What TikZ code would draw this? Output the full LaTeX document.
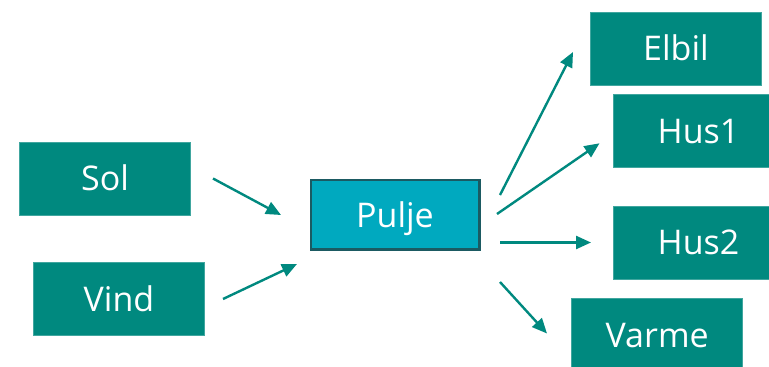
\documentclass[tikz,border=0pt]{standalone}
\usepackage{fontspec}
\setmainfont{Open Sans}
\usetikzlibrary{arrows.meta}
\definecolor{boxteal}{HTML}{00897F}
\definecolor{poolfill}{HTML}{00A9BF}
\definecolor{poolline}{HTML}{1B5A62}
\begin{document}
\begin{tikzpicture}[x=1pt,y=-1pt,
  box/.style={fill=boxteal, draw=boxteal!75!white, line width=0.6pt, text=white,
    minimum width=171pt, minimum height=73pt, inner sep=0pt,
    text height=25pt, text depth=0pt, font=\fontsize{34}{40}\selectfont},
  pool/.style={box, fill=poolfill, draw=poolline, line width=2.4pt,
    minimum width=168.6pt, minimum height=69.6pt},
  flow/.style={draw=boxteal, line width=2.4pt, -{Triangle[length=15pt,width=13pt]}}]
\useasboundingbox (0,0) rectangle (769,367);
\clip (0,0) rectangle (769,367);

% sources
\node[box] (sol)  at (105,178.3) {Sol};
\node[box] (vind) at (119,299.2) {Vind};
% pool
\node[pool] (pulje) at (395,214.5) {Pulje};
% consumers
\node[box] (elbil) at (676,48.3)   {Elbil};
\node[box] (hus1)  at (698.5,131)  {Hus1};
\node[box] (hus2)  at (698.5,242.3) {Hus2};
\node[box] (varme) at (657.2,334.5) {Varme};

% arrow ends, kept clear of the boxes
\coordinate (solout)   at (213,178.5);
\coordinate (vindout)  at (223,299);
\coordinate (poolinA)  at (281,215);
\coordinate (poolinB)  at (297,264);
\coordinate (poolA)    at (500,195);
\coordinate (poolB)    at (497,214);
\coordinate (poolC)    at (500,242.5);
\coordinate (poolD)    at (500,282);
\coordinate (elbilin)  at (573,52);
\coordinate (hus1in)   at (599.5,143.3);
\coordinate (hus2in)   at (591,242.5);
\coordinate (varmein)  at (547,333.5);

\draw[flow] (solout) -- (poolinA);
\draw[flow] (vindout) -- (poolinB);
\draw[flow] (poolA) -- (elbilin);
\draw[flow] (poolB) -- (hus1in);
\draw[flow] (poolC) -- (hus2in);
\draw[flow] (poolD) -- (varmein);
\end{tikzpicture}
\end{document}
